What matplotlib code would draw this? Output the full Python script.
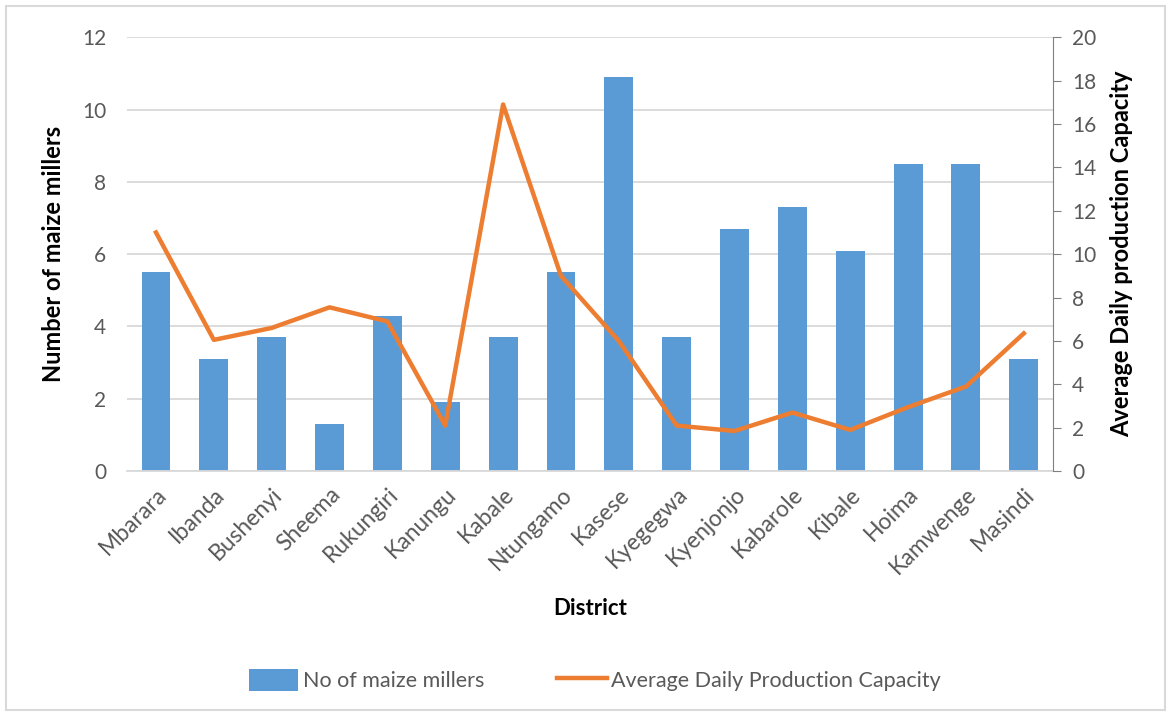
import numpy as np
import matplotlib.pyplot as plt
from matplotlib.patches import Rectangle

plt.rcParams['font.family'] = ['Lato', 'DejaVu Sans']

districts = ['Mbarara', 'Ibanda', 'Bushenyi', 'Sheema', 'Rukungiri', 'Kanungu',
             'Kabale', 'Ntungamo', 'Kasese', 'Kyegegwa', 'Kyenjonjo', 'Kabarole',
             'Kibale', 'Hoima', 'Kamwenge', 'Masindi']
millers = [5.5, 3.1, 3.7, 1.3, 4.3, 1.9, 3.7, 5.5, 10.9, 3.7, 6.7, 7.3, 6.1, 8.5, 8.5, 3.1]
capacity = [11.0, 6.05, 6.6, 7.55, 6.9, 2.1, 16.9, 9.0, 6.0, 2.1, 1.85, 2.7, 1.9, 2.95, 3.9, 6.35]

blue = '#5B9BD5'
orange = '#ED7D31'
grey_txt = '#595959'

fig = plt.figure(figsize=(11.71, 7.16), dpi=100)
fig.patches.append(Rectangle((0.005, 0.008), 0.99, 0.984, transform=fig.transFigure,
                             fill=False, edgecolor='#D9D9D9', linewidth=1.5))
ax = fig.add_axes([0.1085, 0.342, 0.7905, 0.606])
x = np.arange(len(districts))

bars = ax.bar(x, millers, width=0.5, color=blue, zorder=2, label='No of maize millers')
ax.set_ylim(0, 12)
ax.set_yticks(np.arange(0, 13, 2))
ax.set_xlim(-0.5, len(districts) - 0.5)
ax.grid(axis='y', color='#D9D9D9', linewidth=1.3, zorder=0)
ax.set_axisbelow(True)
for s in ['top', 'right', 'left']:
	ax.spines[s].set_visible(False)
ax.spines['bottom'].set_color('#D9D9D9')
ax.spines['bottom'].set_linewidth(1.3)
ax.tick_params(axis='y', length=0, labelsize=15, labelcolor=grey_txt, pad=15)
ax.tick_params(axis='x', length=0, labelsize=16.5, labelcolor=grey_txt, pad=9)
ax.set_xticks(x)
ax.set_xticklabels(districts, rotation=45, ha='right', rotation_mode='anchor')
ax.set_ylabel('Number of maize millers', fontsize=17, fontweight='bold', labelpad=12)
ax.set_xlabel('District', fontsize=16, fontweight='bold', labelpad=14)

ax2 = ax.twinx()
line, = ax2.plot(x, capacity, color=orange, linewidth=3.2, zorder=3,
                 label='Average Daily Production Capacity')
ax2.set_ylim(0, 20)
ax2.set_yticks(np.arange(0, 21, 2))
for s in ['top', 'left', 'bottom']:
	ax2.spines[s].set_visible(False)
ax2.spines['right'].set_color('#808080')
ax2.tick_params(axis='y', length=6, color='#808080', labelsize=15, labelcolor=grey_txt, pad=8)
ax2.set_ylabel('Average Daily production Capacity', fontsize=17, fontweight='bold', labelpad=10)

fig.legend([bars, line], ['No of maize millers', 'Average Daily Production Capacity'],
           loc='center', bbox_to_anchor=(0.508, 0.05), ncol=2, frameon=False,
           fontsize=15.5, labelcolor=grey_txt, handlelength=2.3, handleheight=1.2,
           columnspacing=3.4, handletextpad=0.2)

plt.savefig('out.png', dpi=100)
